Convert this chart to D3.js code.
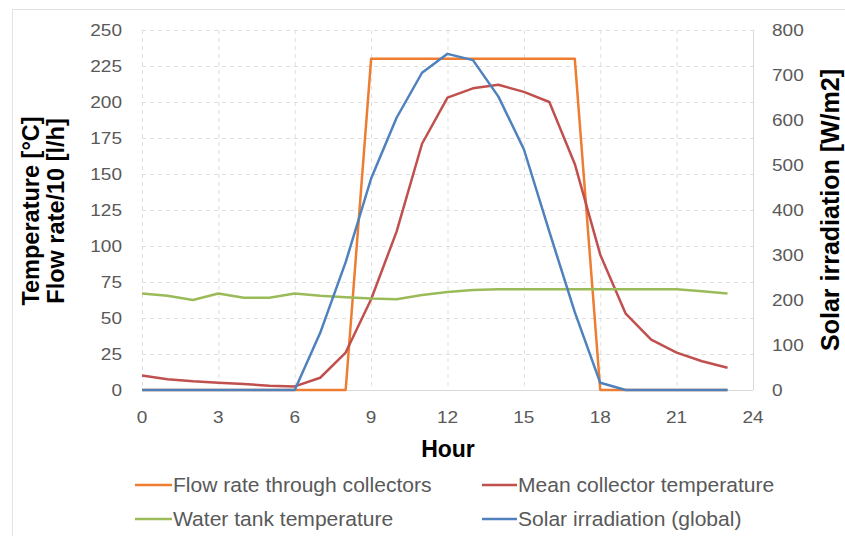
<!DOCTYPE html>
<html>
<head>
<meta charset="utf-8">
<script src="https://cdn.jsdelivr.net/npm/d3@7.9.0/dist/d3.min.js"></script>
<style>
  body { margin: 0; background: #fff; }
  svg { display: block; font-family: "Liberation Sans", Arial, sans-serif; }
</style>
</head>
<body>
<svg id="chart" width="845" height="536"></svg>
<script>
// hourly values
const hours = [0,1,2,3,4,5,6,7,8,9,10,11,12,13,14,15,16,17,18,19,20,21,22,23];
const flowRate = [0,0,0,0,0,0,0,0,0,230,230,230,230,230,230,230,230,230,0,0,0,0,0,0];
const meanCollectorTemp = [10,7.5,6,5,4.2,3,2.5,8.5,26,63,110,171,203,209.5,212,207,200,157,94,53,35,26,20,15.5];
const waterTankTemp = [67,65.5,62.5,67,64,64,67,65.5,64.4,63.5,63,66,68,69.5,70,70,70,70,70,70,70,70,68.5,67];
const solarIrradiation = [0,0,0,0,0,0,0,127,284,470,605,705,747,733,652,535,352,173,16,0,0,0,0,0];

const xTicks = [0,3,6,9,12,15,18,21,24];
const leftTicks = [0,25,50,75,100,125,150,175,200,225,250];
const rightTicks = [0,100,200,300,400,500,600,700,800];

const series = [
  { name: 'Flow rate through collectors', values: flowRate, axis: 'left', color: '#ED7D31' },
  { name: 'Mean collector temperature', values: meanCollectorTemp, axis: 'left', color: '#C0504D' },
  { name: 'Water tank temperature', values: waterTankTemp, axis: 'left', color: '#9BBB59' },
  { name: 'Solar irradiation (global)', values: solarIrradiation, axis: 'right', color: '#4F81BD' }
];

const svg = d3.select('#chart');
const plot = { left: 142, right: 753, top: 30, bottom: 390 };

const x = d3.scaleLinear().domain([0, 24]).range([plot.left, plot.right]);
const yL = d3.scaleLinear().domain([0, 250]).range([plot.bottom, plot.top]);
const yR = d3.scaleLinear().domain([0, 800]).range([plot.bottom, plot.top]);

// outer chart frame
svg.append('rect')
  .attr('x', 12.5).attr('y', 9.5).attr('width', 845).attr('height', 540)
  .attr('fill', 'none').attr('stroke', '#e3e3e3');

// gridlines
svg.append('g').selectAll('line')
  .data(leftTicks.slice(1))
  .join('line')
  .attr('x1', plot.left).attr('x2', plot.right)
  .attr('y1', d => yL(d) + 0.5).attr('y2', d => yL(d) + 0.5)
  .attr('stroke', '#dedede').attr('stroke-dasharray', '4,4');

svg.append('g').selectAll('line')
  .data(xTicks.slice(0, -1))
  .join('line')
  .attr('x1', d => x(d) + 0.5).attr('x2', d => x(d) + 0.5)
  .attr('y1', plot.top).attr('y2', plot.bottom)
  .attr('stroke', '#dedede').attr('stroke-dasharray', '4,4');

// axis lines
svg.append('line')
  .attr('x1', plot.left).attr('x2', plot.right)
  .attr('y1', plot.bottom + 0.5).attr('y2', plot.bottom + 0.5)
  .attr('stroke', '#d9d9d9');
svg.append('line')
  .attr('x1', plot.right + 0.5).attr('x2', plot.right + 0.5)
  .attr('y1', plot.top).attr('y2', plot.bottom)
  .attr('stroke', '#d9d9d9');

// tick labels (slightly stretched like the source)
const tickStyle = sel => sel
  .attr('font-size', 17).attr('fill', '#595959');

svg.append('g').selectAll('text')
  .data(leftTicks)
  .join('text')
  .attr('transform', d => `translate(122,${yL(d) + 6}) scale(1.12,1)`)
  .attr('text-anchor', 'end')
  .text(d => d)
  .call(tickStyle);

svg.append('g').selectAll('text')
  .data(rightTicks)
  .join('text')
  .attr('transform', d => `translate(772,${yR(d) + 6}) scale(1.12,1)`)
  .attr('text-anchor', 'start')
  .text(d => d)
  .call(tickStyle);

svg.append('g').selectAll('text')
  .data(xTicks)
  .join('text')
  .attr('transform', d => `translate(${x(d)},423) scale(1.12,1)`)
  .attr('text-anchor', 'middle')
  .text(d => d)
  .call(tickStyle);

// axis titles
svg.append('text')
  .attr('x', 448).attr('y', 457)
  .attr('text-anchor', 'middle')
  .attr('font-size', 23).attr('font-weight', 'bold')
  .text('Hour');

svg.append('text')
  .attr('transform', 'translate(39,211) rotate(-90)')
  .attr('text-anchor', 'middle')
  .attr('font-size', 23.5).attr('font-weight', 'bold')
  .text('Temperature [°C]');

svg.append('text')
  .attr('transform', 'translate(64,211) rotate(-90)')
  .attr('text-anchor', 'middle')
  .attr('font-size', 23.5).attr('font-weight', 'bold')
  .text('Flow rate/10 [l/h]');

svg.append('text')
  .attr('transform', 'translate(839,210) rotate(-90)')
  .attr('text-anchor', 'middle')
  .attr('font-size', 25).attr('font-weight', 'bold')
  .text('Solar irradiation [W/m2]');

// lines
series.forEach(s => {
  const y = s.axis === 'left' ? yL : yR;
  const line = d3.line()
    .x((d, i) => x(hours[i]))
    .y(d => y(d));
  svg.append('path')
    .datum(s.values)
    .attr('d', line)
    .attr('fill', 'none')
    .attr('stroke', s.color)
    .attr('stroke-width', 2.5)
    .attr('stroke-linejoin', 'round');
});

// legend
const legendPos = [
  { lx: 135, tx: 173, y: 485 },
  { lx: 482, tx: 518, y: 485 },
  { lx: 135, tx: 173, y: 519 },
  { lx: 482, tx: 518, y: 519 }
];
series.forEach((s, i) => {
  const p = legendPos[i];
  svg.append('line')
    .attr('x1', p.lx).attr('x2', p.tx - 1)
    .attr('y1', p.y).attr('y2', p.y)
    .attr('stroke', s.color).attr('stroke-width', 2.5);
  svg.append('text')
    .attr('transform', `translate(${p.tx},${p.y + 7}) scale(1.08,1)`)
    .attr('font-size', 19.5).attr('fill', '#595959')
    .text(s.name);
});
</script>
</body>
</html>
